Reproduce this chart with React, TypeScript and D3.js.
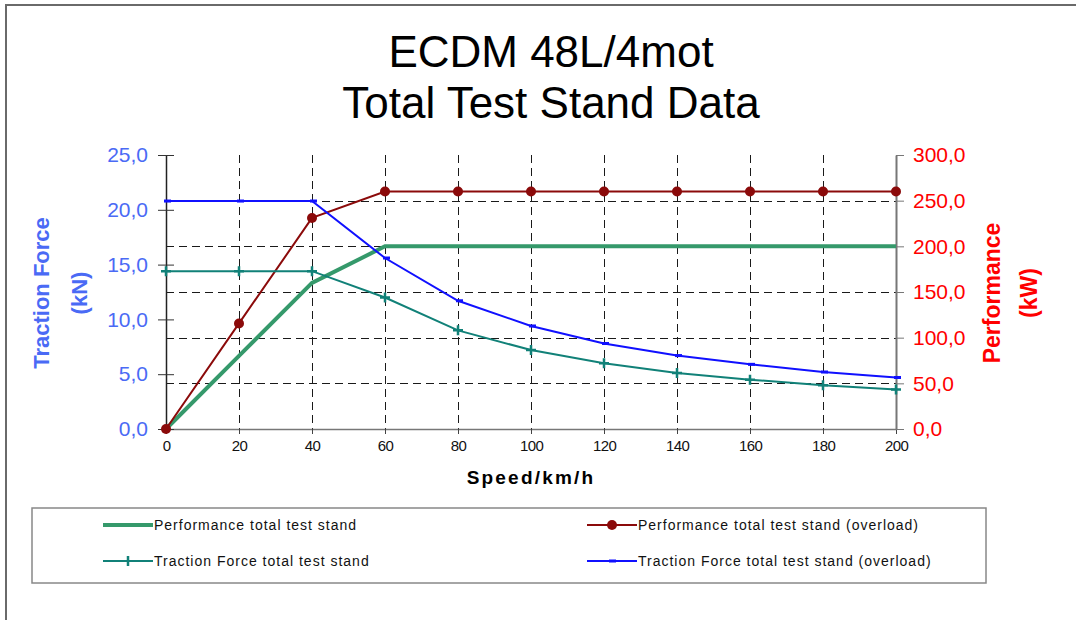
import React, { useEffect, useRef } from "react";
import * as d3 from "d3";

// speeds in km/h
const speeds = [0, 20, 40, 60, 80, 100, 120, 140, 160, 180, 200];
// kW, right axis
const performance = [0, 80, 160, 200, 200, 200, 200, 200, 200, 200, 200];
const performanceOverload = [0, 115.6, 231.1, 260, 260, 260, 260, 260, 260, 260, 260];
// kN, left axis
const tractionForce = [14.4, 14.4, 14.4, 12.0, 9.0, 7.2, 6.0, 5.1, 4.5, 4.0, 3.6];
const tractionForceOverload = [20.8, 20.8, 20.8, 15.6, 11.7, 9.4, 7.8, 6.7, 5.9, 5.2, 4.7];

const leftTicks = [0, 5, 10, 15, 20, 25];
const rightTicks = [0, 50, 100, 150, 200, 250, 300];
const titleLines = ["ECDM 48L/4mot", "Total Test Stand Data"];
const legendItems = [
  "Performance total test stand",
  "Performance total test stand (overload)",
  "Traction Force total test stand",
  "Traction Force total test stand (overload)",
];

const W = 1076;
const H = 620;
const FONT = "'Liberation Sans', Arial, sans-serif";

const C_GREEN = "#35996b";
const C_RED = "#8b0a0a";
const C_TEAL = "#118178";
const C_BLUE = "#1010ff";
const C_LEFT = "#4a6af5";
const C_RIGHT = "#ff0000";

const fmt = (v: number) => d3.format(".1f")(v).replace(".", ",");

export default function App() {
  const ref = useRef<SVGSVGElement>(null);

  useEffect(() => {
    const svg = d3.select(ref.current);
    svg.selectAll("*").remove();

    const x = d3.scaleLinear().domain([0, 200]).range([166, 896]);
    const yL = d3.scaleLinear().domain([0, 25]).range([429, 155]);
    const yR = d3.scaleLinear().domain([0, 300]).range([429, 155]);

    svg.append("rect").attr("width", W).attr("height", H).attr("fill", "#fff");

    // page frame
    svg.append("path").attr("d", `M6,${H} L6,5 L${W},5`)
      .attr("fill", "none").attr("stroke", "#6a6a6a").attr("stroke-width", 2);

    // title
    svg.append("g").selectAll("text").data(titleLines).enter()
      .append("text")
      .attr("x", 551)
      .attr("y", (d, i) => 67 + i * 51)
      .attr("text-anchor", "middle")
      .style("font-family", FONT)
      .style("font-size", "44px")
      .attr("fill", "#000")
      .text(d => d);

    // grid
    const grid = svg.append("g").attr("stroke", "#1a1a1a").attr("stroke-dasharray", "8,5")
      .attr("stroke-width", 1).attr("shape-rendering", "crispEdges");
    grid.selectAll("line.h").data(rightTicks.slice(1, -1)).enter()
      .append("line").attr("class", "h")
      .attr("x1", 166).attr("x2", 896)
      .attr("y1", d => Math.round(yR(d)) + 0.5).attr("y2", d => Math.round(yR(d)) + 0.5);
    grid.selectAll("line.v").data(speeds.slice(1, -1)).enter()
      .append("line").attr("class", "v")
      .attr("y1", 155).attr("y2", 429)
      .attr("x1", d => Math.round(x(d)) + 0.5).attr("x2", d => Math.round(x(d)) + 0.5);

    // bottom axis
    const xAxis = svg.append("g").attr("transform", "translate(0,429)")
      .call(d3.axisBottom(x).tickValues(speeds).tickSize(5).tickSizeOuter(0).tickPadding(6));
    xAxis.select(".domain").attr("stroke", "#777").attr("stroke-width", 1.5);
    xAxis.selectAll(".tick line").attr("stroke", "#444");
    xAxis.selectAll(".tick text")
      .style("font-family", FONT).style("font-size", "15px").attr("fill", "#111")
      .attr("letter-spacing", "-0.6px");

    // left axis, ticks cross the line
    const lAxis = svg.append("g").attr("transform", "translate(166,0)")
      .call(d3.axisLeft(yL).tickValues(leftTicks).tickFormat(d => fmt(+d)).tickSize(8).tickSizeOuter(0).tickPadding(10));
    lAxis.select(".domain").attr("stroke", "#222").attr("stroke-width", 1.5);
    lAxis.selectAll(".tick line").attr("x1", 8).attr("stroke", "#333");
    lAxis.selectAll(".tick text")
      .style("font-family", FONT).style("font-size", "21px").attr("fill", C_LEFT);

    // right axis
    const rAxis = svg.append("g").attr("transform", "translate(896,0)")
      .call(d3.axisRight(yR).tickValues(rightTicks).tickFormat(d => fmt(+d)).tickSize(8).tickSizeOuter(0).tickPadding(9));
    rAxis.select(".domain").attr("stroke", "#777").attr("stroke-width", 2);
    rAxis.selectAll(".tick line").attr("stroke", "#777");
    rAxis.selectAll(".tick text")
      .style("font-family", FONT).style("font-size", "21px").attr("fill", C_RIGHT);

    // axis titles
    svg.append("text")
      .attr("x", 531).attr("y", 484)
      .attr("text-anchor", "middle")
      .style("font-family", FONT).style("font-size", "19px").style("font-weight", "bold")
      .attr("letter-spacing", "2.2px")
      .text("Speed/km/h");

    const leftTitle = svg.append("text")
      .attr("transform", "translate(49,293) rotate(-90)")
      .attr("text-anchor", "middle")
      .style("font-family", FONT).style("font-size", "22px").style("font-weight", "bold")
      .attr("fill", C_LEFT);
    leftTitle.append("tspan").attr("x", 0).attr("y", 0).text("Traction Force");
    leftTitle.append("tspan").attr("x", 0).attr("y", 38).text("(kN)");

    const rightTitle = svg.append("text")
      .attr("transform", "translate(1000,293) rotate(-90)")
      .attr("text-anchor", "middle")
      .style("font-family", FONT).style("font-size", "23px").style("font-weight", "bold")
      .attr("fill", C_RIGHT);
    rightTitle.append("tspan").attr("x", 0).attr("y", 0).text("Performance");
    rightTitle.append("tspan").attr("x", 0).attr("y", 37).text("(kW)");

    // series
    const lineR = d3.line<number>().x((d, i) => x(speeds[i])).y(d => yR(d));
    const lineL = d3.line<number>().x((d, i) => x(speeds[i])).y(d => yL(d));

    svg.append("path").datum(performance).attr("d", lineR)
      .attr("fill", "none").attr("stroke", C_GREEN).attr("stroke-width", 4);

    svg.append("path").datum(performanceOverload).attr("d", lineR)
      .attr("fill", "none").attr("stroke", C_RED).attr("stroke-width", 2);
    svg.append("g").selectAll("circle").data(performanceOverload).enter()
      .append("circle")
      .attr("cx", (d, i) => x(speeds[i])).attr("cy", d => yR(d))
      .attr("r", 5).attr("fill", C_RED);

    svg.append("path").datum(tractionForce).attr("d", lineL)
      .attr("fill", "none").attr("stroke", C_TEAL).attr("stroke-width", 2);
    svg.append("g").selectAll("path").data(tractionForce).enter()
      .append("path")
      .attr("d", (d, i) => {
        const cx = x(speeds[i]);
        const cy = yL(d);
        return `M${cx - 5},${cy} H${cx + 5} M${cx},${cy - 5} V${cy + 5}`;
      })
      .attr("stroke", C_TEAL).attr("stroke-width", 2.5);

    svg.append("path").datum(tractionForceOverload).attr("d", lineL)
      .attr("fill", "none").attr("stroke", C_BLUE).attr("stroke-width", 2);
    svg.append("g").selectAll("rect").data(tractionForceOverload).enter()
      .append("rect")
      .attr("x", (d, i) => x(speeds[i]) - 2).attr("y", d => yL(d) - 1.5)
      .attr("width", 7).attr("height", 3).attr("fill", C_BLUE);

    // legend
    const lg = svg.append("g");
    lg.append("rect").attr("x", 32).attr("y", 508).attr("width", 954).attr("height", 75)
      .attr("fill", "#fff").attr("stroke", "#888").attr("stroke-width", 1.5);
    const pos = [
      { lx: 103, y: 525 },
      { lx: 587, y: 525 },
      { lx: 103, y: 561 },
      { lx: 587, y: 561 },
    ];
    const colors = [C_GREEN, C_RED, C_TEAL, C_BLUE];
    legendItems.forEach((name, i) => {
      const p = pos[i];
      lg.append("line").attr("x1", p.lx).attr("x2", p.lx + 50).attr("y1", p.y).attr("y2", p.y)
        .attr("stroke", colors[i]).attr("stroke-width", i === 0 ? 4 : 2);
      const mx = p.lx + 25;
      if (i === 1) lg.append("circle").attr("cx", mx).attr("cy", p.y).attr("r", 5).attr("fill", C_RED);
      if (i === 2) lg.append("path").attr("d", `M${mx},${p.y - 5} V${p.y + 5}`).attr("stroke", C_TEAL).attr("stroke-width", 2.5);
      if (i === 3) lg.append("rect").attr("x", mx - 3).attr("y", p.y - 1.5).attr("width", 7).attr("height", 3).attr("fill", C_BLUE);
      lg.append("text")
        .attr("x", p.lx + 51).attr("y", p.y + 5)
        .style("font-family", FONT).style("font-size", "14px")
        .attr("letter-spacing", "1px")
        .attr("fill", "#111")
        .text(name);
    });
  }, []);

  return (
    <svg ref={ref} width={W} height={H}
      style={{ position: "absolute", left: 0, top: 0, display: "block" }} />
  );
}
